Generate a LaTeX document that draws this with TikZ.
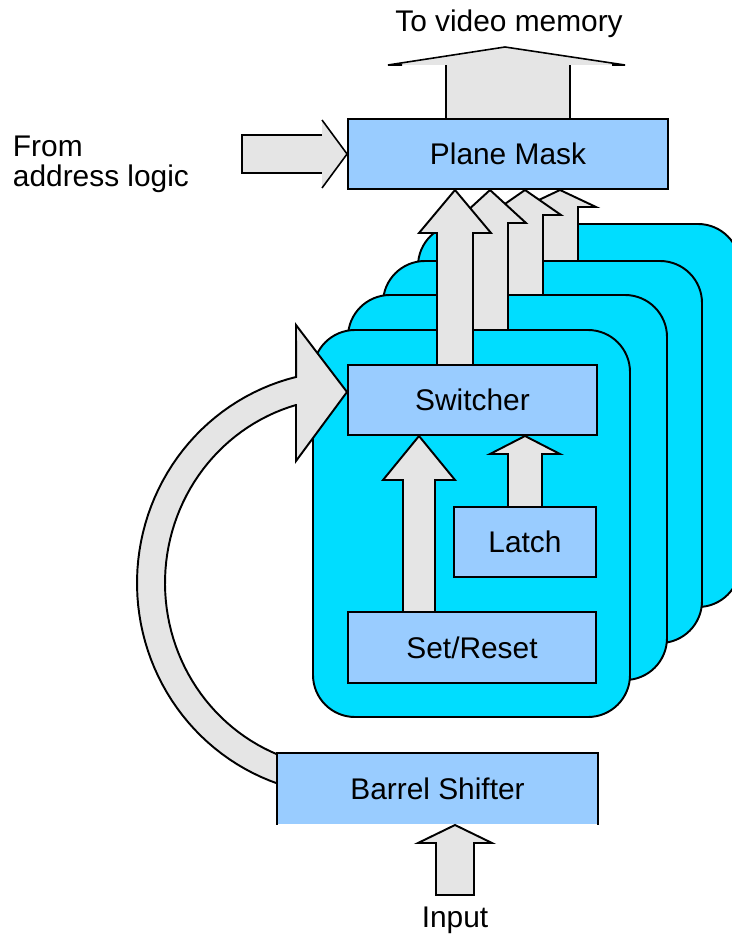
\documentclass[tikz,border=0pt]{standalone}
\usepackage{fontspec}
\setmainfont{Liberation Sans}
\definecolor{planecyan}{RGB}{0,221,255}
\definecolor{boxblue}{RGB}{153,204,255}
\definecolor{arrowgrey}{RGB}{229,229,229}
\begin{document}
\begin{tikzpicture}[x=0.02cm,y=-0.02cm,line width=1.1pt,
  plane/.style={fill=planecyan,draw=black,rounded corners=0.84cm},
  blockbox/.style={fill=boxblue,draw=black,inner sep=0pt,font=\fontsize{17}{20}\selectfont},
  fat/.style={fill=arrowgrey,draw=black,line join=miter},
  thinedge/.style={draw=black,line width=0.9pt},
  lbl/.style={font=\fontsize{17}{20}\selectfont,inner sep=0pt}]
\useasboundingbox (0,0) rectangle (732,936);

% bit planes, back to front, each with its output arrow
\path[plane] (418,224) rectangle (740,607);
\path[fat] (542,264) -- (542,207) -- (524,207) -- (560,190) -- (596,207) -- (578,207) -- (578,264);
\path[plane] (383,261) rectangle (702,643);
\path[fat] (507,298) -- (507,215) -- (489,215) -- (525,190) -- (561,215) -- (543,215) -- (543,298);
\path[plane] (348,295) rectangle (667,680);
\path[fat] (472,333) -- (472,223) -- (454,223) -- (490,190) -- (526,223) -- (508,223) -- (508,333);
\path[plane] (313,330) rectangle (630,717);
\path[fat] (437,367) -- (437,233) -- (419,233) -- (455,190) -- (491,233) -- (473,233) -- (473,367);

% inner arrows of the front plane
\path[fat] (403,613) -- (403,480) -- (383,480) -- (419,436) -- (455,480) -- (435,480) -- (435,613);
\path[fat] (508,508) -- (508,454) -- (490,454) -- (525,436) -- (560,454) -- (542,454) -- (542,508);

% blocks of the front plane
\node[blockbox,minimum width=4.98cm,minimum height=1.4cm] (switcher) at (472.5,400) {Switcher};
\node[blockbox,minimum width=2.84cm,minimum height=1.4cm] (latch) at (525,542) {Latch};
\node[blockbox,minimum width=4.96cm,minimum height=1.42cm] (setreset) at (472,647.5) {Set/Reset};

% feedback arrow from the barrel shifter round to the switcher
\path[fat] (296,325) -- (347,392) -- (296,461) -- (296,405)
  -- plot[domain=254.2:111.8,samples=60,variable=\t] ({345+180*cos(\t)},{583+185*sin(\t)})
  -- plot[domain=108.8:256.4,samples=60,variable=\t] ({345+208*cos(\t)},{583+212*sin(\t)})
  -- cycle;

% plane mask and its outgoing arrow
\path[fill=arrowgrey] (446,119) -- (446,65) -- (388,65) -- (505,47) -- (625,65) -- (570,65) -- (570,119) -- cycle;
\draw (446,119) -- (446,65);
\draw (570,119) -- (570,65);
\draw[thinedge] (402,65) -- (388,65) -- (505,47) -- (625,65) -- (612,65);
\node[blockbox,minimum width=6.4cm,minimum height=1.4cm] (mask) at (508,154) {Plane Mask};

% arrow from the address logic
\path[fill=arrowgrey] (242,135) -- (322,135) -- (322,120) -- (347,154) -- (322,188) -- (322,173) -- (242,173) -- cycle;
\draw (322,135) -- (242,135) -- (242,173) -- (322,173);
\draw[thinedge] (322,120) -- (mask.west) -- (322,188);

% barrel shifter, open at the bottom
\node[fill=boxblue,inner sep=0pt,minimum width=6.38cm,minimum height=1.4cm,font=\fontsize{17}{20}\selectfont] (barrel) at (437.5,789) {Barrel Shifter};
\draw (barrel.south west) -- (barrel.north west) -- (barrel.north east) -- (barrel.south east);

% input arrow
\path[fat] (436,895) -- (436,843) -- (418,843) -- (455,825) -- (492,843) -- (474,843) -- (474,895) -- cycle;

% labels
\node[lbl,anchor=base] (tvm) at (509,32) {To video memory};
\node[lbl,anchor=base west] (from1) at (12,156) {From};
\node[lbl,anchor=base west] (from2) at (12,186) {address logic};
\node[lbl,anchor=base] (inp) at (455,927) {Input};
\end{tikzpicture}
\end{document}
